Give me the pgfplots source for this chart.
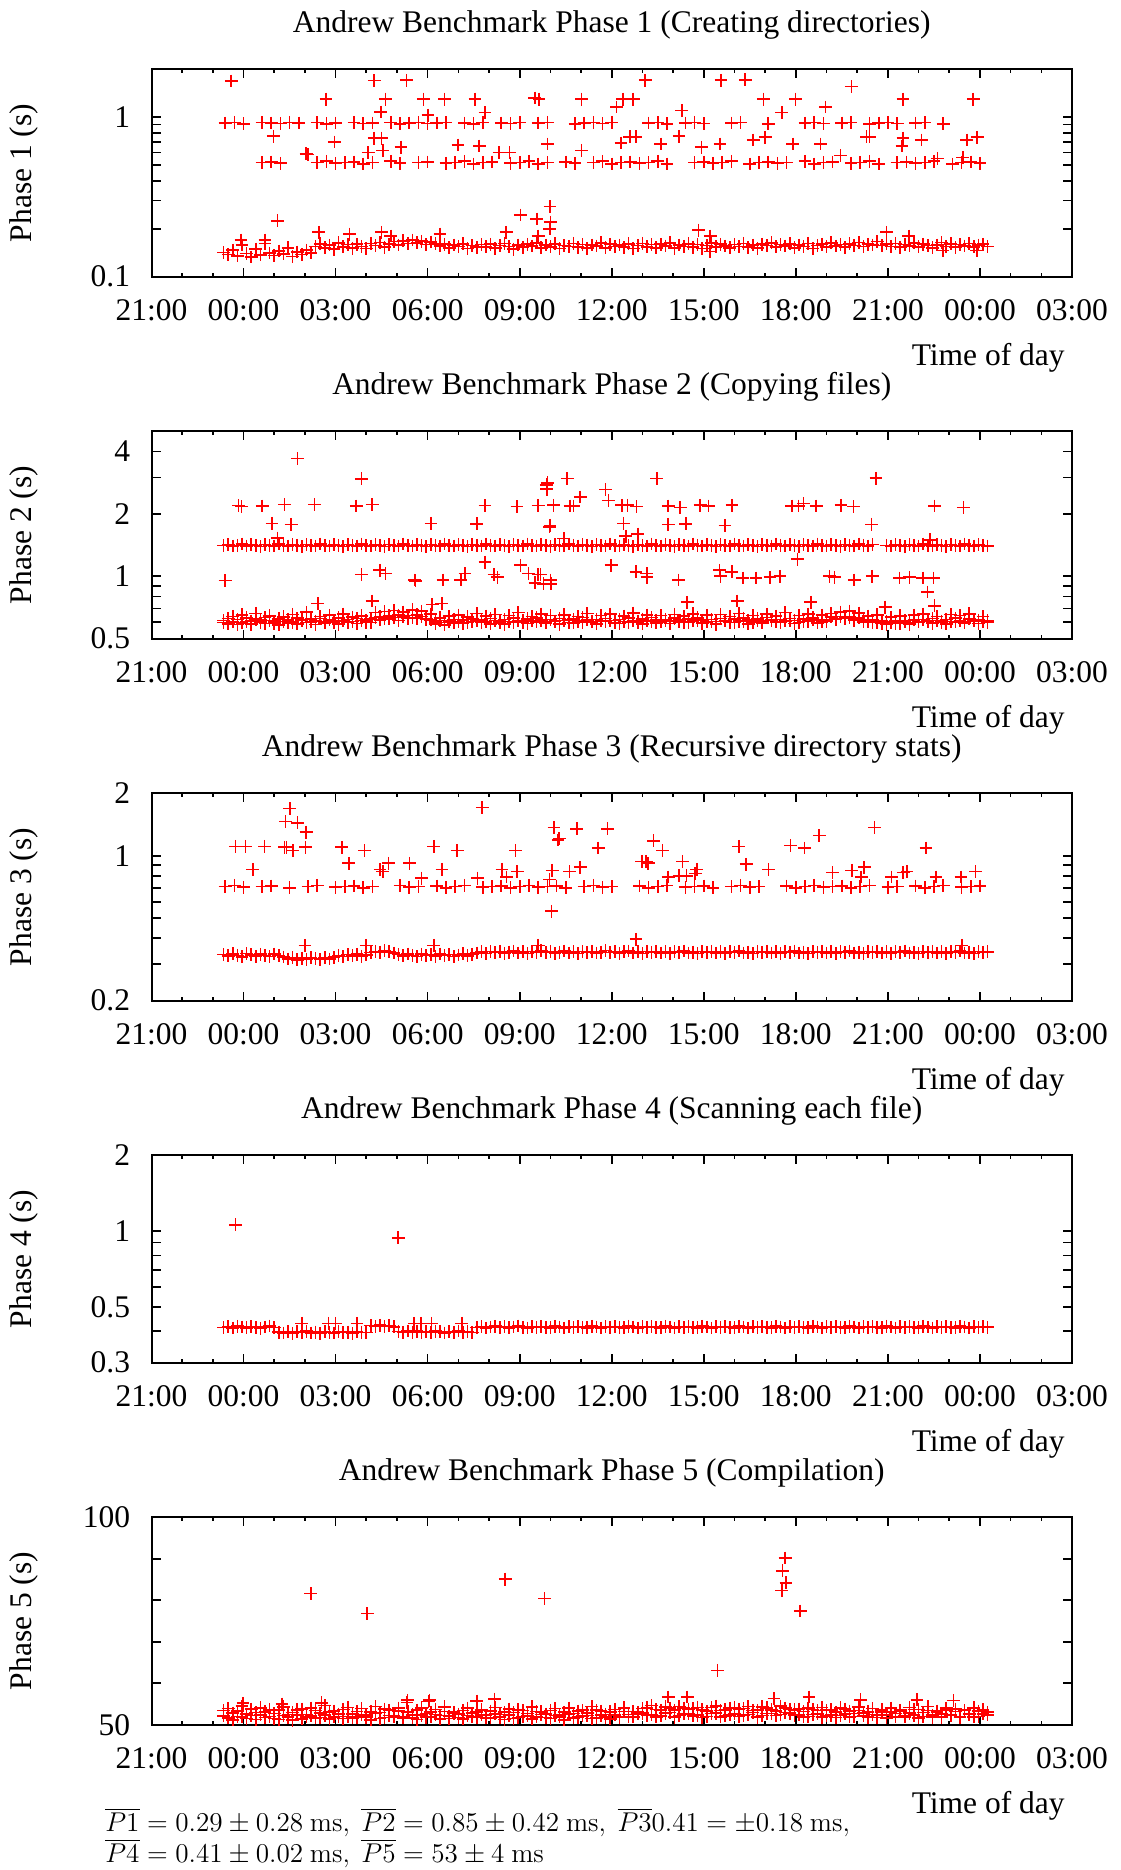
\documentclass[border=0pt]{standalone}
\usepackage{graphicx}
\usepackage[no-math]{fontspec}
\setmainfont{Liberation Serif}
\usepackage{pgfplots}
\usepackage{pgfplotstable}
\pgfplotsset{compat=1.18}
\newcommand{\fs}{\fontsize{15.75bp}{18bp}\selectfont}

\pgfplotstableread{
x b1 b2 d2 r2 b3 b4 b5 d5
-0.65 0.142 0.612 0.598 1.41 0.334 0.414 52.1 53.4
-0.50 0.138 0.625 0.590 1.42 0.329 0.417 51.6 53.9
-0.35 0.147 0.603 0.641 1.40 0.337 0.412 52.8 51.2
-0.20 0.135 0.618 0.585 1.41 0.331 0.419 53.3 52.0
-0.05 0.158 0.597 0.652 1.43 0.326 0.416 51.9 54.5
0.10 0.140 0.630 0.604 1.40 0.338 0.413 52.6 51.5
0.25 0.133 0.609 0.587 1.42 0.333 0.418 53.8 52.2
0.40 0.149 0.621 0.663 1.41 0.328 0.415 51.3 52.9
0.55 0.137 0.600 0.616 1.39 0.335 0.411 52.4 54.1
0.70 0.162 0.633 0.592 1.42 0.331 0.416 53.1 51.7
0.85 0.141 0.611 0.645 1.41 0.327 0.420 52.0 53.6
1.00 0.136 0.594 0.607 1.40 0.336 0.414 51.5 52.7
1.15 0.145 0.624 0.583 1.43 0.330 0.397 53.5 51.3
1.30 0.139 0.606 0.638 1.41 0.325 0.394 52.2 54.3
1.45 0.152 0.617 0.596 1.40 0.318 0.399 51.8 52.5
1.60 0.134 0.601 0.655 1.42 0.322 0.393 52.9 51.1
1.75 0.143 0.628 0.589 1.41 0.315 0.398 53.6 52.4
1.90 0.138 0.612 0.620 1.39 0.321 0.395 51.4 53.8
2.05 0.147 0.599 0.671 1.42 0.317 0.400 52.5 51.9
2.20 0.141 0.622 0.602 1.41 0.323 0.394 52.1 54.0
2.35 0.155 0.608 0.586 1.40 0.319 0.397 53.4 51.6
2.50 0.161 0.626 0.640 1.43 0.316 0.393 51.7 52.8
2.65 0.152 0.603 0.595 1.41 0.322 0.399 52.3 54.6
2.80 0.158 0.615 0.649 1.40 0.318 0.396 53.0 51.4
2.95 0.149 0.598 0.610 1.42 0.324 0.394 51.9 53.3
3.10 0.163 0.631 0.588 1.41 0.331 0.398 52.6 52.0
3.25 0.154 0.610 0.658 1.39 0.327 0.395 53.7 51.5
3.40 0.159 0.620 0.601 1.42 0.334 0.397 52.0 54.2
3.55 0.151 0.604 0.636 1.41 0.329 0.393 51.6 52.6
3.70 0.160 0.627 0.592 1.40 0.335 0.398 53.2 51.8
3.85 0.155 0.612 0.645 1.43 0.328 0.396 52.4 53.9
4.00 0.150 0.600 0.614 1.41 0.332 0.395 51.8 52.3
4.15 0.162 0.623 0.598 1.40 0.341 0.421 53.1 51.2
4.30 0.157 0.633 0.669 1.42 0.346 0.418 52.7 54.4
4.45 0.164 0.641 0.615 1.41 0.343 0.423 51.5 52.9
4.60 0.153 0.628 0.677 1.39 0.349 0.419 53.8 51.7
4.75 0.160 0.645 0.622 1.42 0.344 0.422 52.2 53.5
4.90 0.166 0.632 0.684 1.41 0.340 0.417 51.9 52.1
5.05 0.158 0.650 0.611 1.40 0.334 0.399 53.3 54.0
5.20 0.168 0.637 0.672 1.43 0.329 0.396 52.0 51.6
5.35 0.162 0.646 0.625 1.41 0.336 0.401 52.9 53.2
5.50 0.170 0.631 0.690 1.40 0.331 0.397 51.6 52.4
5.65 0.163 0.652 0.628 1.42 0.327 0.400 53.5 51.3
5.80 0.167 0.639 0.678 1.41 0.335 0.395 52.3 54.1
5.95 0.159 0.627 0.618 1.39 0.330 0.399 51.8 52.7
6.10 0.165 0.615 0.656 1.42 0.333 0.396 53.0 51.9
6.25 0.161 0.603 0.589 1.41 0.328 0.400 52.5 53.7
6.40 0.156 0.611 0.631 1.40 0.336 0.398 51.4 52.2
6.55 0.160 0.598 0.584 1.43 0.330 0.394 53.2 54.3
6.70 0.152 0.607 0.642 1.41 0.334 0.399 52.1 51.5
6.85 0.158 0.620 0.596 1.40 0.327 0.397 52.8 53.0
7.00 0.155 0.602 0.650 1.42 0.332 0.401 51.7 52.6
7.15 0.161 0.614 0.593 1.41 0.337 0.396 53.4 51.4
7.30 0.150 0.599 0.638 1.39 0.329 0.398 52.2 54.0
7.45 0.157 0.622 0.605 1.42 0.335 0.395 51.9 52.8
7.60 0.153 0.608 0.661 1.41 0.340 0.414 53.1 51.8
7.75 0.159 0.617 0.598 1.40 0.344 0.417 52.4 53.6
7.90 0.154 0.603 0.643 1.43 0.338 0.412 51.6 52.3
8.05 0.160 0.625 0.590 1.41 0.345 0.416 53.3 51.6
8.20 0.151 0.611 0.654 1.40 0.341 0.419 52.6 54.2
8.35 0.157 0.596 0.609 1.42 0.346 0.414 51.8 52.5
8.50 0.162 0.619 0.587 1.41 0.339 0.418 53.0 51.3
8.65 0.155 0.606 0.647 1.39 0.343 0.413 52.3 53.8
8.80 0.149 0.628 0.600 1.42 0.347 0.416 51.5 52.9
8.95 0.158 0.613 0.668 1.41 0.340 0.420 53.6 51.7
9.10 0.153 0.601 0.612 1.40 0.344 0.415 52.0 53.4
9.25 0.160 0.624 0.592 1.43 0.338 0.412 52.7 52.1
9.40 0.156 0.609 0.640 1.41 0.345 0.417 51.4 54.3
9.55 0.163 0.630 0.603 1.40 0.342 0.414 53.2 51.9
9.70 0.152 0.614 0.657 1.42 0.348 0.418 52.5 53.1
9.85 0.158 0.600 0.595 1.41 0.341 0.415 51.7 52.6
10.00 0.154 0.618 0.646 1.39 0.346 0.413 53.4 51.5
10.15 0.161 0.605 0.608 1.42 0.339 0.419 52.2 53.9
10.30 0.150 0.627 0.588 1.41 0.343 0.416 51.9 52.4
10.45 0.157 0.612 0.652 1.40 0.347 0.412 53.0 51.2
10.60 0.155 0.598 0.615 1.43 0.340 0.417 52.6 54.0
10.75 0.162 0.621 0.597 1.41 0.344 0.414 51.6 52.7
10.90 0.153 0.607 0.639 1.40 0.338 0.418 53.3 51.8
11.05 0.159 0.633 0.601 1.42 0.345 0.415 52.1 53.5
11.20 0.151 0.615 0.661 1.41 0.342 0.413 52.8 52.2
11.35 0.158 0.602 0.606 1.39 0.346 0.419 51.5 54.4
11.50 0.156 0.620 0.590 1.42 0.340 0.416 53.5 51.6
11.65 0.163 0.608 0.648 1.41 0.343 0.412 52.3 53.3
11.80 0.152 0.625 0.604 1.40 0.349 0.417 51.8 52.5
11.95 0.160 0.611 0.658 1.43 0.341 0.414 53.1 51.4
12.10 0.155 0.597 0.611 1.41 0.345 0.418 52.4 53.7
12.25 0.158 0.619 0.593 1.40 0.339 0.415 51.7 52.0
12.40 0.153 0.606 0.644 1.42 0.344 0.413 53.2 54.1
12.55 0.161 0.629 0.600 1.41 0.347 0.419 52.5 51.9
12.70 0.150 0.613 0.665 1.39 0.340 0.416 51.9 53.2
12.85 0.157 0.601 0.609 1.42 0.344 0.412 53.0 52.6
13.00 0.162 0.623 0.589 1.41 0.338 0.417 52.8 53.9
13.15 0.154 0.610 0.651 1.40 0.345 0.414 54.1 52.3
13.30 0.159 0.632 0.607 1.43 0.342 0.418 52.4 54.6
13.45 0.152 0.616 0.596 1.41 0.346 0.415 53.7 51.9
13.60 0.160 0.603 0.646 1.40 0.340 0.413 52.1 53.5
13.75 0.156 0.620 0.612 1.42 0.344 0.419 54.3 52.8
13.90 0.163 0.607 0.591 1.41 0.339 0.416 52.9 54.0
14.05 0.151 0.628 0.655 1.39 0.345 0.412 53.5 51.8
14.20 0.158 0.614 0.603 1.42 0.341 0.417 52.2 54.4
14.35 0.155 0.600 0.642 1.41 0.347 0.414 54.0 52.6
14.50 0.161 0.622 0.598 1.40 0.340 0.418 52.6 53.8
14.65 0.153 0.609 0.660 1.43 0.343 0.415 53.9 52.1
14.80 0.159 0.631 0.614 1.41 0.338 0.413 52.3 54.2
14.95 0.150 0.615 0.594 1.40 0.345 0.419 53.6 51.7
15.10 0.157 0.602 0.649 1.42 0.342 0.416 52.0 53.3
15.25 0.163 0.618 0.606 1.41 0.346 0.412 54.2 52.7
15.40 0.154 0.605 0.588 1.39 0.340 0.417 52.8 54.5
15.55 0.160 0.627 0.653 1.42 0.344 0.414 53.4 51.9
15.70 0.156 0.612 0.610 1.41 0.339 0.418 52.1 53.6
15.85 0.152 0.598 0.641 1.40 0.345 0.415 54.0 52.4
16.00 0.159 0.621 0.599 1.43 0.341 0.413 52.6 54.1
16.15 0.155 0.607 0.663 1.41 0.347 0.419 53.7 52.0
16.30 0.162 0.629 0.605 1.40 0.340 0.416 52.3 53.9
16.45 0.153 0.614 0.590 1.42 0.343 0.412 54.4 52.5
16.60 0.158 0.601 0.647 1.41 0.338 0.417 52.9 53.4
16.75 0.151 0.624 0.609 1.39 0.345 0.414 53.5 51.8
16.90 0.160 0.610 0.595 1.42 0.342 0.418 52.2 54.3
17.05 0.157 0.633 0.656 1.41 0.346 0.415 54.1 52.7
17.20 0.163 0.616 0.613 1.40 0.340 0.413 52.7 53.6
17.35 0.154 0.603 0.643 1.43 0.344 0.419 53.3 52.2
17.50 0.159 0.619 0.600 1.41 0.339 0.416 52.5 54.5
17.65 0.156 0.608 0.668 1.40 0.345 0.412 54.0 52.9
17.80 0.161 0.626 0.611 1.42 0.341 0.417 52.8 53.7
17.95 0.152 0.612 0.592 1.41 0.347 0.414 53.6 52.3
18.10 0.158 0.599 0.648 1.39 0.340 0.418 52.4 53.8
18.25 0.155 0.622 0.604 1.42 0.343 0.415 53.2 51.9
18.40 0.162 0.607 0.657 1.41 0.338 0.413 52.0 54.0
18.55 0.150 0.631 0.615 1.40 0.345 0.419 53.7 52.5
18.70 0.157 0.615 0.597 1.43 0.342 0.416 52.6 53.4
18.85 0.160 0.602 0.650 1.41 0.346 0.412 51.8 54.2
19.00 0.154 0.620 0.607 1.40 0.340 0.417 53.5 52.1
19.15 0.163 0.638 0.662 1.42 0.344 0.414 52.3 53.6
19.30 0.156 0.625 0.618 1.41 0.339 0.418 53.0 51.7
19.45 0.159 0.641 0.673 1.39 0.345 0.415 52.2 54.1
19.60 0.153 0.629 0.626 1.42 0.341 0.413 53.8 52.6
19.75 0.161 0.635 0.680 1.41 0.347 0.419 51.9 53.3
19.90 0.157 0.622 0.612 1.40 0.340 0.416 52.7 52.0
20.05 0.164 0.630 0.665 1.43 0.343 0.412 53.4 54.3
20.20 0.155 0.617 0.603 1.41 0.338 0.417 52.1 52.8
20.35 0.160 0.605 0.644 1.40 0.345 0.414 53.1 51.8
20.50 0.158 0.614 0.598 1.42 0.342 0.418 52.5 53.9
20.65 0.166 0.600 0.652 nan 0.346 0.415 51.7 52.4
20.80 0.157 0.592 0.608 nan 0.340 0.413 53.6 53.0
20.95 0.161 0.603 0.585 1.41 0.344 0.419 52.4 51.6
21.10 0.155 0.596 0.637 1.40 0.339 0.416 53.0 54.0
21.25 0.162 0.608 0.591 1.42 0.345 0.412 51.9 52.7
21.40 0.153 0.594 0.645 1.41 0.341 0.417 53.3 53.5
21.55 0.159 0.611 0.602 1.39 0.347 0.414 52.2 51.9
21.70 0.156 0.599 0.588 1.42 0.340 0.418 52.8 54.2
21.85 0.163 0.615 0.649 1.41 0.343 0.415 53.7 52.3
22.00 0.154 0.602 0.606 1.40 0.338 0.413 51.6 53.7
22.15 0.160 0.620 0.658 1.43 0.345 0.419 52.9 52.0
22.30 0.157 0.607 0.612 1.41 0.342 0.416 53.4 54.4
22.45 0.152 0.625 0.594 1.40 0.346 0.412 52.3 51.8
22.60 0.158 0.611 0.641 1.42 0.340 0.417 53.1 53.3
22.75 0.164 0.598 0.609 1.41 0.344 0.414 51.8 52.6
22.90 0.155 0.619 0.590 1.39 0.339 0.418 53.6 54.0
23.05 0.161 0.606 0.654 1.42 0.345 0.415 52.5 52.2
23.20 0.153 0.628 0.603 1.41 0.341 0.413 53.2 53.8
23.35 0.159 0.613 0.647 1.40 0.347 0.419 52.0 51.7
23.50 0.156 0.601 0.596 1.43 0.340 0.416 53.5 53.4
23.65 0.162 0.622 0.660 1.41 0.343 0.412 52.7 52.5
23.80 0.154 0.609 0.610 1.40 0.338 0.417 51.9 54.1
23.95 0.158 0.616 0.593 1.42 0.345 0.414 53.3 52.0
24.10 0.160 0.604 0.639 1.41 0.342 0.418 52.6 53.6
24.25 0.155 0.612 0.601 1.40 0.344 0.415 53.0 52.4
}\tabA

\pgfplotstableread{
x u1 m1 u3
-0.6 0.92 nan 0.71
-0.3 0.93 nan 0.72
0.0 0.91 nan 0.705
0.3 nan nan nan
0.6 0.925 0.52 0.71
0.9 0.92 0.525 0.715
1.2 0.915 0.515 nan
1.5 0.93 nan 0.70
1.8 0.92 nan nan
2.1 nan nan 0.71
2.4 0.925 0.52 0.72
2.7 0.91 0.53 nan
3.0 0.92 0.515 0.705
3.3 nan 0.52 0.71
3.6 0.93 0.525 0.715
3.9 0.915 0.51 0.70
4.2 0.92 0.52 0.71
4.5 nan nan nan
4.8 0.925 0.53 nan
5.1 0.91 0.515 0.72
5.4 0.92 nan 0.705
5.7 0.93 0.52 0.71
6.0 0.915 0.525 nan
6.3 0.92 nan 0.715
6.6 0.925 0.515 0.70
6.9 nan 0.52 0.71
7.2 0.92 0.53 0.72
7.5 0.91 0.51 nan
7.8 0.93 0.52 0.705
8.1 nan 0.525 0.71
8.4 0.92 nan 0.715
8.7 0.915 0.515 0.70
9.0 0.925 0.52 0.71
9.3 nan 0.53 0.72
9.6 0.92 0.51 0.705
9.9 0.93 0.52 0.71
10.2 nan nan 0.715
10.5 nan 0.525 0.70
10.8 0.91 0.515 nan
11.1 0.92 nan 0.71
11.4 0.925 0.52 0.72
11.7 0.915 0.53 0.705
12.0 0.93 0.51 0.71
12.3 nan 0.52 nan
12.6 nan 0.525 nan
12.9 nan 0.515 0.715
13.2 0.92 0.52 0.70
13.5 0.925 0.53 0.71
13.8 0.91 0.51 0.72
14.1 nan nan nan
14.4 0.92 nan 0.705
14.7 0.93 0.52 0.71
15.0 0.915 0.525 0.715
15.3 nan 0.515 0.70
15.6 nan 0.52 nan
15.9 0.92 0.53 0.71
16.2 0.925 nan 0.72
16.5 nan 0.51 0.705
16.8 nan 0.52 0.71
17.1 0.91 0.525 nan
17.4 nan 0.515 nan
17.7 nan 0.52 0.715
18.0 nan nan 0.70
18.3 0.92 0.53 0.71
18.6 0.93 0.51 0.72
18.9 0.915 0.52 0.705
19.2 nan 0.525 0.71
19.5 0.92 nan 0.715
19.8 0.925 0.515 0.70
20.1 nan 0.52 0.71
20.4 0.91 0.53 0.72
20.7 0.92 0.51 nan
21.0 0.93 nan 0.705
21.3 0.915 0.52 0.71
21.6 nan 0.525 nan
21.9 0.92 0.515 0.715
22.2 0.925 0.52 0.70
22.5 nan 0.53 0.71
22.8 0.91 nan 0.72
23.1 nan 0.51 nan
23.4 nan 0.52 0.705
23.7 nan 0.525 0.71
24.0 nan 0.515 0.715
}\tabB

\pgfplotsset{
  panel/.style={
    width=460.25bp, height=103.7bp, scale only axis,
    xmin=-3, xmax=27,
    xtick={-3,0,3,6,9,12,15,18,21,24,27},
    xticklabels={21:00,00:00,03:00,06:00,09:00,12:00,15:00,18:00,21:00,00:00,03:00},
    minor x tick num=2,
    major tick length=4.5bp, minor tick length=2bp,
    tick style={black, line width=0.8bp},
    axis line style={black, line width=1bp},
    tick label style={font=\fs},
    label style={font=\fs},
    title style={font=\fs, at={(axis description cs:0.5,1)}, anchor=base, yshift=12.3bp, inner sep=0pt},
    xticklabel style={anchor=north, inner sep=0pt, yshift=-11.15bp},
    yticklabel style={anchor=east, inner sep=0pt, xshift=-10.5bp},
    xlabel={Time of day},
    xlabel style={at={(axis description cs:1,0)}, anchor=base east, inner sep=0pt, xshift=-3.5bp, yshift=-44.6bp},
    ylabel style={at={(axis description cs:-0.1385,0.5)}, anchor=center, inner sep=0pt},
    anchor=north west,
  },
  pts/.style={only marks, mark=+, mark size=3.2bp, color=red, mark options={line width=0.8bp}},
}

\begin{document}
\begin{tikzpicture}
\useasboundingbox (0,0) rectangle (560.5bp,-935bp);

% ---------- Phase 1 ----------
\begin{axis}[panel, at={(75.75bp,-34.65bp)},
  ymode=log, ymin=0.1, ymax=2,
  ytick={0.1,0.2,0.3,0.4,0.5,0.6,0.7,0.8,0.9,1,2},
  yticklabels={0.1,,,,,,,,,1,},
  title={Andrew Benchmark Phase 1 (Creating directories)},
  ylabel={Phase 1 (s)}]
\addplot[pts] table[x=x,y=b1]{\tabA};
\addplot[pts] table[x=x,y=u1]{\tabB};
\addplot[pts] table[x=x,y=m1]{\tabB};
\addplot[pts] coordinates {(-0.40,1.69)(2.69,1.30)(4.26,1.70)(4.63,1.30)(5.31,1.71)(5.86,1.30)(6.55,1.30)(7.54,1.30)(4.47,1.08)(7.87,1.07)(6.01,1.03)(9.49,1.32)(9.63,1.30)(0.97,0.76)(2.96,0.70)(4.26,0.74)(4.49,0.74)(4.54,0.62)(5.13,0.65)(4.06,0.60)(2.04,0.59)(2.10,0.585)(6.99,0.67)(7.68,0.66)(8.33,0.60)(8.67,0.60)(9.91,0.68)(9.02,0.244)(9.56,0.23)(9.99,0.275)(10.0,0.22)(9.98,0.20)(1.11,0.224)(2.45,0.19)(3.45,0.185)(4.5,0.19)(4.8,0.18)(6.4,0.185)(8.56,0.19)(9.6,0.18)(-0.08,0.17)(0.7,0.17)(13.09,1.71)(15.56,1.71)(16.35,1.72)(19.81,1.56)(11.02,1.30)(12.36,1.30)(12.70,1.30)(12.16,1.16)(14.28,1.10)(17.54,1.07)(16.94,1.30)(17.99,1.30)(18.97,1.16)(21.49,1.30)(23.78,1.30)(11.02,0.62)(12.30,0.69)(12.59,0.755)(12.79,0.755)(13.60,0.68)(14.19,0.76)(14.92,0.65)(15.53,0.68)(16.61,0.72)(17.0,0.75)(17.90,0.68)(18.80,0.68)(20.30,0.755)(20.40,0.755)(21.46,0.66)(21.49,0.74)(22.09,0.72)(23.57,0.72)(23.91,0.75)(19.46,0.575)(22.62,0.55)(23.44,0.56)(14.83,0.196)(15.21,0.18)(15.21,0.144)(20.96,0.19)(21.68,0.18)(22.79,0.146)(23.9,0.146)};
\end{axis}

% ---------- Phase 2 ----------
\begin{axis}[panel, at={(75.75bp,-215.65bp)},
  ymode=log, ymin=0.5, ymax=5,
  ytick={0.5,0.6,0.7,0.8,0.9,1,2,3,4,5},
  yticklabels={0.5,,,,,1,2,,4,},
  title={Andrew Benchmark Phase 2 (Copying files)},
  ylabel={Phase 2 (s)}]
\addplot[pts] table[x=x,y=b2]{\tabA};
\addplot[pts] table[x=x,y=d2]{\tabA};
\addplot[pts] table[x=x,y=r2]{\tabA};
\addplot[pts] coordinates {(-0.60,0.954)(-0.16,2.19)(-0.07,2.17)(0.61,2.18)(0.93,1.80)(1.34,2.22)(1.55,1.78)(1.76,3.69)(2.31,2.22)(1.11,1.53)(2.42,0.74)(3.67,2.18)(3.84,2.95)(4.19,2.22)(3.84,1.02)(4.19,0.76)(4.44,1.07)(4.63,1.03)(5.57,0.96)(5.60,0.95)(6.11,1.80)(6.15,0.73)(6.46,0.74)(6.50,0.96)(7.08,0.96)(7.22,1.03)(7.60,1.79)(7.87,2.19)(7.87,1.17)(8.16,1.02)(8.28,0.99)(8.91,2.17)(9.03,1.13)(9.29,1.03)(9.50,0.93)(9.60,1.02)(9.77,0.92)(9.60,2.19)(9.87,2.76)(9.88,2.63)(9.99,1.76)(10.1,2.2)(9.90,2.82)(10.55,2.96)(10.97,2.41)(10.64,2.18)(10.75,2.18)(11.80,2.62)(11.89,2.32)(12.33,2.2)(12.51,2.2)(12.81,2.17)(13.47,2.96)(13.84,2.18)(14.23,2.15)(14.88,2.2)(15.15,2.18)(15.92,2.2)(17.87,2.18)(18.08,2.18)(18.25,2.24)(18.66,2.18)(19.47,2.2)(19.88,2.17)(20.61,2.97)(22.52,2.18)(23.46,2.15)(9.97,1.73)(12.38,1.80)(12.46,1.56)(12.85,1.6)(10.44,1.52)(13.84,1.78)(14.41,1.79)(15.69,1.76)(20.47,1.78)(22.38,1.5)(18.05,1.21)(11.98,1.13)(9.68,1.02)(10.0,0.96)(10.02,0.92)(12.79,1.05)(13.14,1.03)(13.15,0.99)(14.17,0.96)(15.51,1.07)(15.55,1.0)(15.91,1.05)(16.27,0.98)(16.70,0.98)(17.16,0.99)(17.48,1.0)(19.09,1.0)(19.26,0.99)(19.90,0.96)(20.49,1.0)(21.38,0.98)(21.70,0.99)(22.14,0.98)(22.48,0.98)(22.29,0.84)(22.52,0.72)(14.46,0.75)(16.09,0.76)(18.49,0.75)(20.91,0.71)};
\end{axis}

% ---------- Phase 3 ----------
\begin{axis}[panel, at={(75.75bp,-396.65bp)},
  ymode=log, ymin=0.2, ymax=2,
  ytick={0.2,0.3,0.4,0.5,0.6,0.7,0.8,0.9,1,2},
  yticklabels={0.2,,,,,,,,1,2},
  title={Andrew Benchmark Phase 3 (Recursive directory stats)},
  ylabel={Phase 3 (s)}]
\addplot[pts] table[x=x,y=b3]{\tabA};
\addplot[pts] table[x=x,y=u3]{\tabB};
\addplot[pts] coordinates {(1.51,1.69)(1.37,1.46)(1.76,1.44)(2.04,1.30)(-0.26,1.11)(0.07,1.11)(0.68,1.11)(1.34,1.10)(1.40,1.10)(1.61,1.06)(2.02,1.10)(0.30,0.86)(3.20,1.10)(3.43,0.92)(3.94,1.06)(4.45,0.86)(4.54,0.84)(4.72,0.92)(5.41,0.92)(5.80,0.78)(6.20,1.11)(6.47,0.86)(6.96,1.06)(7.63,0.78)(7.78,1.71)(8.42,0.86)(8.57,0.79)(8.86,1.06)(8.92,0.84)(9.97,0.77)(10.25,1.19)(2.0,0.37)(4.0,0.37)(6.2,0.37)(9.6,0.37)(10.12,1.37)(10.29,1.21)(10.86,1.35)(11.86,1.35)(11.56,1.09)(10.06,0.85)(10.62,0.84)(10.97,0.88)(10.04,0.54)(12.79,0.396)(13.36,1.18)(13.66,1.06)(12.98,0.94)(13.12,0.94)(13.19,0.92)(14.31,0.94)(14.77,0.86)(14.72,0.82)(14.44,0.80)(14.19,0.80)(13.84,0.79)(16.14,1.11)(16.38,0.91)(17.11,0.86)(17.83,1.12)(18.28,1.09)(18.76,1.25)(19.20,0.83)(19.82,0.85)(20.23,0.88)(20.56,1.37)(20.13,0.79)(21.12,0.79)(21.50,0.83)(21.62,0.84)(22.24,1.09)(22.57,0.79)(23.38,0.79)(23.86,0.84)(23.41,0.37)};
\end{axis}

% ---------- Phase 4 ----------
\begin{axis}[panel, at={(75.75bp,-577.65bp)},
  ymode=log, ymin=0.3, ymax=2,
  ytick={0.3,0.4,0.5,0.6,0.7,0.8,0.9,1,2},
  yticklabels={0.3,,0.5,,,,,1,2},
  title={Andrew Benchmark Phase 4 (Scanning each file)},
  ylabel={Phase 4 (s)}]
\addplot[pts] table[x=x,y=b4]{\tabA};
\addplot[pts] coordinates {(-0.26,1.06)(5.04,0.94)(1.9,0.43)(2.77,0.43)(3.0,0.43)(3.7,0.43)(5.56,0.43)(5.79,0.43)(6.12,0.43)(7.11,0.43)};
\end{axis}

% ---------- Phase 5 ----------
\begin{axis}[panel, at={(75.75bp,-758.65bp)},
  ymin=50, ymax=100,
  ytick={50,60,70,80,90,100},
  yticklabels={50,,,,,100},
  title={Andrew Benchmark Phase 5 (Compilation)},
  ylabel={Phase 5 (s)}]
\addplot[pts] table[x=x,y=b5]{\tabA};
\addplot[pts] table[x=x,y=d5]{\tabA};
\addplot[pts] coordinates {(2.19,81.6)(4.03,76.8)(8.53,85.1)(9.81,80.4)(15.44,63.1)(17.65,90.2)(17.56,87.1)(17.68,84.2)(17.54,82.4)(18.14,77.4)(-0.02,55.2)(1.25,55.0)(2.54,55.3)(5.33,55.4)(6.03,55.6)(7.60,55.7)(8.18,56.2)(13.84,56.7)(14.46,56.7)(17.29,56.3)(18.43,56.7)(20.11,56.0)(21.95,56.0)(23.14,55.8)(5.34,55.9)(6.06,55.9)};
\end{axis}

\node[anchor=base west, inner sep=0pt, font=\fontsize{14.5bp}{16bp}\selectfont] at (52.5bp,-915.5bp)
  {\scalebox{0.947}{$\overline{P1} = 0.29 \pm 0.28\ \mathrm{ms},\ \overline{P2} = 0.85 \pm 0.42\ \mathrm{ms},\ \overline{P3}0.41 = \pm0.18\ \mathrm{ms},$}};
\node[anchor=base west, inner sep=0pt, font=\fontsize{14.5bp}{16bp}\selectfont] at (52.5bp,-931bp)
  {\scalebox{0.947}{$\overline{P4} = 0.41 \pm 0.02\ \mathrm{ms},\ \overline{P5} = 53 \pm 4\ \mathrm{ms}$}};
\end{tikzpicture}
\end{document}
